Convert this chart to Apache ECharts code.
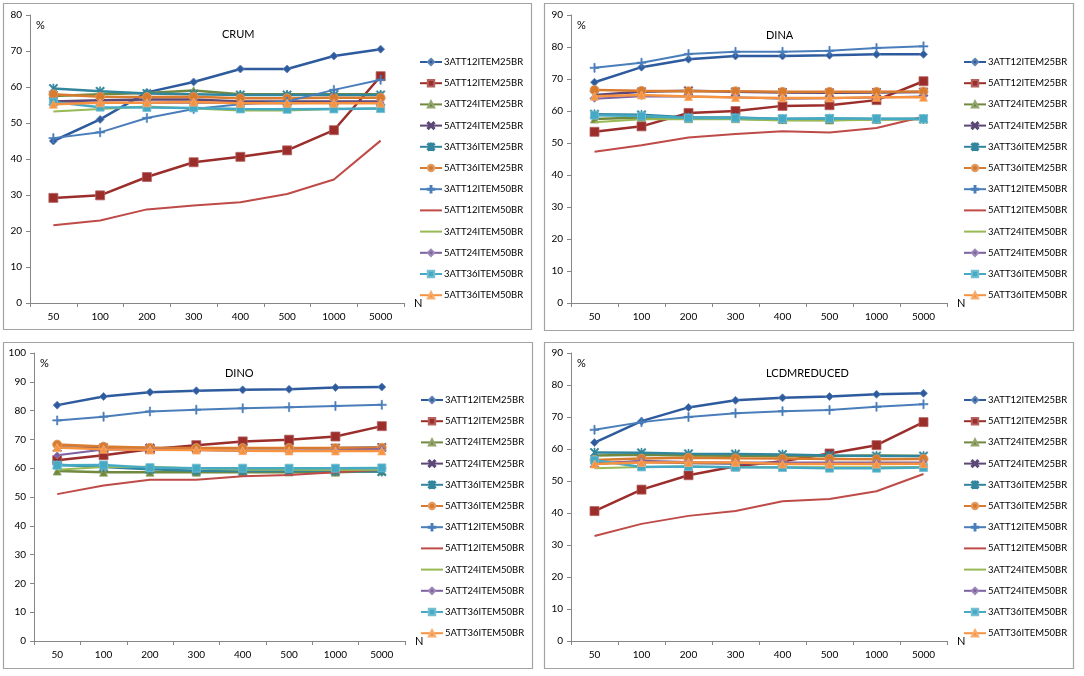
<!DOCTYPE html>
<html lang="en">
<head>
    <meta charset="UTF-8">
    <title>CRUM / DINA / DINO / LCDMREDUCED</title>
    <script src="https://cdn.jsdelivr.net/npm/echarts@6/dist/echarts.min.js"></script>
    <style>
        html, body { margin: 0; padding: 0; background: #fff; }
        #main { width: 1084px; height: 676px; }
    </style>
</head>
<body>
<div id="main"></div>
<script>
    // x categories (N)
    var categories = ['50', '100', '200', '300', '400', '500', '1000', '5000'];
    var seriesNames = ['3ATT12ITEM25BR', '5ATT12ITEM25BR', '3ATT24ITEM25BR', '5ATT24ITEM25BR',
        '3ATT36ITEM25BR', '5ATT36ITEM25BR', '3ATT12ITEM50BR', '5ATT12ITEM50BR',
        '3ATT24ITEM50BR', '5ATT24ITEM50BR', '3ATT36ITEM50BR', '5ATT36ITEM50BR'];
    var panelTitles = ['CRUM', 'DINA', 'DINO', 'LCDMREDUCED'];
    var yMaxes = [80, 90, 100, 90];

    // one row per series, same order as seriesNames
    var crum = [
        [45.0, 51.0, 58.5, 61.4, 65.0, 65.0, 68.6, 70.5],
        [29.2, 29.9, 35.0, 39.1, 40.6, 42.4, 48.0, 63.0],
        [57.5, 58.0, 58.3, 59.0, 58.0, 58.0, 58.0, 58.0],
        [56.0, 56.3, 56.5, 56.5, 56.0, 56.0, 56.0, 56.0],
        [59.6, 58.8, 58.2, 58.0, 57.8, 57.8, 57.8, 57.8],
        [58.0, 57.3, 57.2, 57.3, 56.9, 56.9, 57.0, 57.0],
        [45.8, 47.4, 51.4, 53.9, 55.2, 56.0, 59.2, 62.0],
        [21.6, 22.9, 26.0, 27.1, 28.0, 30.3, 34.3, 45.1],
        [53.2, 53.9, 54.6, 54.0, 53.5, 53.5, 53.9, 54.0],
        [55.6, 55.6, 55.6, 55.7, 55.5, 55.5, 55.6, 55.6],
        [55.8, 54.4, 54.3, 54.2, 53.9, 53.8, 53.9, 54.0],
        [55.2, 55.6, 55.6, 55.8, 55.5, 55.5, 55.5, 55.5]
    ];
    var dina = [
        [69.0, 73.7, 76.2, 77.2, 77.2, 77.4, 77.7, 77.7],
        [53.5, 55.2, 59.4, 60.0, 61.6, 61.8, 63.4, 69.3],
        [57.5, 58.0, 57.6, 57.6, 57.3, 57.2, 57.4, 57.5],
        [65.0, 66.0, 66.3, 66.0, 65.8, 65.7, 65.8, 65.9],
        [59.0, 58.8, 58.0, 58.0, 57.5, 57.6, 57.5, 57.5],
        [66.6, 66.3, 66.2, 66.2, 66.0, 66.0, 66.0, 66.1],
        [73.5, 75.1, 77.8, 78.5, 78.5, 78.8, 79.7, 80.2],
        [47.3, 49.3, 51.7, 52.8, 53.7, 53.3, 54.7, 58.2],
        [56.5, 57.4, 57.5, 57.4, 57.0, 57.0, 57.3, 57.5],
        [63.8, 64.6, 64.5, 64.3, 63.8, 64.0, 64.2, 64.5],
        [58.7, 58.4, 57.8, 57.8, 57.6, 57.7, 57.6, 57.6],
        [64.6, 65.0, 64.5, 64.2, 64.1, 64.1, 64.3, 64.3]
    ];
    var dino = [
        [81.9, 84.9, 86.4, 86.9, 87.2, 87.4, 88.0, 88.2],
        [62.8, 64.5, 66.6, 68.0, 69.3, 69.9, 71.0, 74.6],
        [59.0, 58.6, 58.6, 58.6, 58.6, 58.7, 58.6, 59.0],
        [67.2, 67.1, 67.0, 66.9, 66.9, 66.9, 67.0, 67.2],
        [61.2, 60.4, 59.6, 59.1, 59.0, 59.0, 59.0, 58.8],
        [68.2, 67.5, 67.1, 67.0, 67.0, 67.0, 67.0, 67.1],
        [76.6, 77.9, 79.7, 80.3, 80.8, 81.2, 81.6, 82.0],
        [51.0, 54.0, 56.0, 56.0, 57.2, 57.6, 58.6, 59.5],
        [59.5, 60.4, 60.5, 59.9, 59.5, 59.5, 59.4, 59.5],
        [64.5, 66.5, 66.5, 66.3, 66.0, 66.0, 66.2, 66.7],
        [61.0, 61.1, 60.2, 60.0, 60.0, 60.0, 60.0, 60.1],
        [67.2, 66.6, 66.4, 66.3, 66.1, 66.0, 66.0, 66.0]
    ];
    var lcdm = [
        [62.0, 68.7, 73.0, 75.2, 76.0, 76.4, 77.1, 77.4],
        [40.6, 47.3, 51.8, 54.6, 56.2, 58.6, 61.2, 68.4],
        [58.0, 58.2, 58.0, 57.9, 57.8, 57.8, 58.0, 57.8],
        [55.5, 56.0, 55.6, 55.5, 55.5, 55.5, 55.5, 55.5],
        [58.9, 58.8, 58.5, 58.4, 58.3, 58.0, 57.8, 57.8],
        [56.6, 57.0, 57.3, 57.1, 57.0, 56.9, 56.8, 56.9],
        [66.0, 68.4, 70.0, 71.2, 71.8, 72.2, 73.2, 74.0],
        [32.8, 36.6, 39.1, 40.6, 43.7, 44.4, 46.8, 52.2],
        [54.0, 54.4, 54.5, 54.3, 54.3, 54.3, 54.3, 54.4],
        [55.3, 56.3, 55.9, 55.8, 55.8, 55.8, 55.8, 55.8],
        [56.5, 54.4, 54.5, 54.3, 54.2, 54.0, 54.0, 54.2],
        [55.3, 55.8, 55.8, 55.8, 55.3, 55.3, 55.3, 55.4]
    ];
    var panelData = [crum, dina, dino, lcdm];

    // ---- styles ----
    var FONT = 'Lato';
    var colors = ['#2D5B9E', '#9B2D2A', '#71893F', '#5C4776', '#31859C', '#D97B2F',
        '#4A7EBB', '#BE4B48', '#98B954', '#7D60A0', '#46AAC5', '#F69240'];
    var xPath = 'path://M0,1.2L1.2,0L10,8.8L8.8,10ZM8.8,0L10,1.2L1.2,10L0,8.8Z';
    var starPath = 'path://M0,1.2L1.2,0L10,8.8L8.8,10ZM8.8,0L10,1.2L1.2,10L0,8.8ZM4.4,0H5.6V10H4.4Z';
    var plusPath = 'path://M4.3,0H5.7V4.3H10V5.7H5.7V10H4.3V5.7H0V4.3H4.3Z';
    var symbols = ['diamond', 'rect', 'triangle', xPath, starPath, 'circle',
        plusPath, 'none', 'none', 'diamond', 'rect', 'triangle'];
    var symbolSizes = [8, 9, 8, 9, 9, 9, 9, 0, 0, 7, 8, 8];
    var lineWidths = [2.5, 2.5, 2.5, 2.5, 2.5, 2.5, 2, 2, 2, 2, 2.5, 2.5];

    // panel layout: box, plot area, title, legend
    var layout = [
        {box: [3, 3, 528, 326], grid: [30, 15, 374, 288], title: [222, 29], legend: [419, 57]},
        {box: [544, 3, 529, 327], grid: [571, 15, 376, 288], title: [766, 30], legend: [963, 57]},
        {box: [3, 342, 529, 326], grid: [34, 353, 371, 288], title: [225, 368], legend: [420, 395]},
        {box: [544, 342, 529, 326], grid: [571, 353, 376, 288], title: [766, 368], legend: [963, 395]}
    ];

    var textColor = '#000';
    var axisColor = '#868686';

    // legend entries: plain line (symbol hidden) for the series without markers
    var legendData = seriesNames.map(function (n, i) {
        return symbols[i] === 'none' ? {name: n, itemStyle: {opacity: 0}} : {name: n};
    });

    var option = {
        animation: false,
        backgroundColor: '#fff',
        textStyle: {fontFamily: FONT},
        title: [],
        legend: [],
        grid: [],
        xAxis: [],
        yAxis: [],
        series: [],
        graphic: []
    };

    layout.forEach(function (p, k) {
        option.graphic.push({
            type: 'rect',
            shape: {x: p.box[0] + 0.5, y: p.box[1] + 0.5, width: p.box[2], height: p.box[3]},
            style: {fill: null, stroke: '#a3a3a3', lineWidth: 1.2},
            silent: true
        });
        option.title.push({
            text: panelTitles[k],
            left: p.title[0],
            top: p.title[1],
            padding: 0,
            textStyle: {fontFamily: FONT, fontSize: 11, fontWeight: 'normal', color: textColor}
        });
        option.legend.push({
            data: legendData,
            orient: 'vertical',
            left: p.legend[0],
            top: p.legend[1],
            padding: 0,
            itemWidth: 22,
            itemHeight: 8,
            itemGap: 11.2,
            selectedMode: false,
            textStyle: {fontFamily: FONT, fontSize: 9.5, color: textColor, padding: [0, 0, 0, -3]}
        });
        option.grid.push({
            left: p.grid[0],
            top: p.grid[1],
            width: p.grid[2],
            height: p.grid[3],
            containLabel: false
        });
        option.xAxis.push({
            type: 'category',
            gridIndex: k,
            data: categories,
            boundaryGap: true,
            name: 'N',
            nameLocation: 'end',
            nameGap: 10,
            nameTextStyle: {fontFamily: FONT, fontSize: 11, color: textColor},
            axisLine: {lineStyle: {color: axisColor, width: 1}},
            axisTick: {show: true, length: 4, lineStyle: {color: axisColor}},
            axisLabel: {fontFamily: FONT, fontSize: 10, color: textColor, margin: 9},
            splitLine: {show: false}
        });
        option.yAxis.push({
            type: 'value',
            gridIndex: k,
            min: 0,
            max: yMaxes[k],
            interval: 10,
            name: '%',
            nameLocation: 'end',
            nameGap: -16,
            nameTextStyle: {fontFamily: FONT, fontSize: 11, color: textColor, align: 'left', padding: [0, 0, 0, 6]},
            axisLine: {show: true, lineStyle: {color: axisColor, width: 1}},
            axisTick: {show: true, length: 4, lineStyle: {color: axisColor}},
            axisLabel: {fontFamily: FONT, fontSize: 10, color: textColor, margin: 8},
            splitLine: {show: false}
        });

        panelData[k].forEach(function (vals, i) {
            var isStroke = (symbols[i] === xPath || symbols[i] === starPath || symbols[i] === plusPath);
            option.series.push({
                name: seriesNames[i],
                type: 'line',
                xAxisIndex: k,
                yAxisIndex: k,
                data: vals,
                symbol: symbols[i],
                symbolSize: symbolSizes[i],
                showSymbol: symbols[i] !== 'none',
                lineStyle: {color: colors[i], width: lineWidths[i]},
                itemStyle: isStroke
                    ? {color: colors[i], borderColor: colors[i], borderWidth: 0.6}
                    : {color: colors[i], borderColor: echarts.color.lift(colors[i], 0.25), borderWidth: 0.8},
                emphasis: {disabled: true},
                z: 2 + i * 0.01
            });
        });
    });

    var myChart = echarts.init(document.getElementById('main'));
    myChart.setOption(option);
</script>
</body>
</html>
